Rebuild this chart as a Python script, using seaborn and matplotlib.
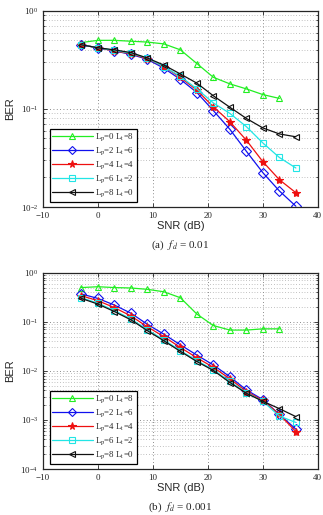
import numpy as np
import pandas as pd
import matplotlib
matplotlib.use('Agg')
import matplotlib.pyplot as plt
import seaborn as sns
from matplotlib.ticker import LogLocator, FixedLocator, NullFormatter

snr = [-3, 0, 3, 6, 9, 12, 15, 18, 21, 24, 27, 30, 33, 36]
labels = [r'L$_\mathrm{p}$=0 L$_\mathrm{t}$=8', r'L$_\mathrm{p}$=2 L$_\mathrm{t}$=6',
          r'L$_\mathrm{p}$=4 L$_\mathrm{t}$=4', r'L$_\mathrm{p}$=6 L$_\mathrm{t}$=2',
          r'L$_\mathrm{p}$=8 L$_\mathrm{t}$=0']

# (a) f_d = 0.01
ber_a_p0 = [0.475, 0.50, 0.50, 0.49, 0.48, 0.46, 0.40, 0.29, 0.21, 0.18, 0.16, 0.14, 0.128]
ber_a_p2 = [0.45, 0.42, 0.39, 0.36, 0.32, 0.26, 0.20, 0.147, 0.096, 0.062, 0.037, 0.0224, 0.0146, 0.0102]
ber_a_p4 = [0.45, 0.42, 0.39, 0.365, 0.325, 0.27, 0.21, 0.155, 0.105, 0.074, 0.048, 0.029, 0.019, 0.014]
ber_a_p6 = [0.45, 0.42, 0.395, 0.37, 0.33, 0.27, 0.215, 0.16, 0.115, 0.09, 0.066, 0.045, 0.032, 0.025]
ber_a_p8 = [0.45, 0.42, 0.40, 0.375, 0.33, 0.28, 0.227, 0.183, 0.136, 0.104, 0.080, 0.064, 0.0556, 0.052]

# (b) f_d = 0.001
ber_b_p0 = [0.50, 0.52, 0.50, 0.49, 0.46, 0.41, 0.31, 0.144, 0.084, 0.068, 0.068, 0.072, 0.072]
ber_b_p2 = [0.37, 0.30, 0.22, 0.15, 0.089, 0.056, 0.034, 0.021, 0.0132, 0.0076, 0.0041, 0.0026, 0.0013, 0.00065]
ber_b_p4 = [0.34, 0.27, 0.195, 0.132, 0.079, 0.05, 0.030, 0.0185, 0.0118, 0.0069, 0.0038, 0.0025, 0.0013, 0.00058]
ber_b_p6 = [0.31, 0.24, 0.17, 0.115, 0.069, 0.043, 0.026, 0.0162, 0.0106, 0.0061, 0.0036, 0.0024, 0.0012, 0.00089]
ber_b_p8 = [0.30, 0.23, 0.162, 0.11, 0.066, 0.041, 0.025, 0.0155, 0.0102, 0.0058, 0.0035, 0.0024, 0.0017, 0.00117]

colors = ['#22ee22', '#1010ee', '#ee1010', '#22e5e5', '#111111']
markers = ['^', 'D', '*', 's', '<']

sns.set_style('ticks')
plt.rcParams['font.family'] = ['Liberation Serif', 'DejaVu Serif']
plt.rcParams['mathtext.fontset'] = 'stix'

fig = plt.figure(figsize=(3.23, 5.15), dpi=100)
ax_a = fig.add_axes([0.133, 0.598, 0.851, 0.381])
ax_b = fig.add_axes([0.133, 0.0893, 0.851, 0.381])


def draw(ax, series, ymin, caption):
    for i, ys in enumerate(series):
        star = markers[i] == '*'
        sns.lineplot(x=snr[:len(ys)], y=ys, ax=ax, color=colors[i], marker=markers[i],
                     markersize=6 if star else 4.8, markerfacecolor=colors[i] if star else 'none',
                     markeredgecolor=colors[i], markeredgewidth=0.8, linewidth=0.9,
                     label=labels[i], sort=False, estimator=None)
    ax.set_yscale('log')
    ax.set_xlim(-10, 40)
    ax.set_ylim(ymin, 1)
    ax.xaxis.set_major_locator(FixedLocator([-10, 0, 10, 20, 30, 40]))
    ax.yaxis.set_major_locator(LogLocator(base=10, numticks=10))
    ax.yaxis.set_minor_locator(LogLocator(base=10, subs=np.arange(2, 10), numticks=20))
    ax.yaxis.set_minor_formatter(NullFormatter())
    ax.grid(True, which='major', linestyle=(0, (1, 3)), color='#666666', linewidth=0.6)
    ax.grid(True, which='minor', axis='y', linestyle=(0, (1, 3)), color='#888888', linewidth=0.5)
    ax.tick_params(which='both', direction='in', top=True, right=True, labelsize=6.5, width=0.6)
    ax.tick_params(which='major', length=3)
    ax.tick_params(which='minor', length=1.5)
    for s in ax.spines.values():
        s.set_linewidth(0.9)
    ax.set_xlabel('SNR (dB)', fontfamily='Liberation Sans', fontsize=8, labelpad=1)
    ax.set_ylabel('BER', fontfamily='Liberation Sans', fontsize=8, labelpad=4)
    leg = ax.legend(loc='lower left', bbox_to_anchor=(0.018, 0.018), fontsize=6.3, handlelength=4.6,
                    labelspacing=0.25, borderpad=0.3, handletextpad=0.3, fancybox=False, framealpha=1,
                    markerscale=0.9, borderaxespad=0.2)
    leg.get_frame().set_edgecolor('black')
    leg.get_frame().set_linewidth(0.9)
    ax.text(0.5, -0.195, caption, transform=ax.transAxes, ha='center', va='center', fontsize=8)


draw(ax_a, [ber_a_p0, ber_a_p2, ber_a_p4, ber_a_p6, ber_a_p8], 1e-2, r'(a)  $f_d$ = 0.01')
draw(ax_b, [ber_b_p0, ber_b_p2, ber_b_p4, ber_b_p6, ber_b_p8], 1e-4, r'(b)  $f_d$ = 0.001')

fig.savefig('out.png', dpi=100)
plt.close(fig)
